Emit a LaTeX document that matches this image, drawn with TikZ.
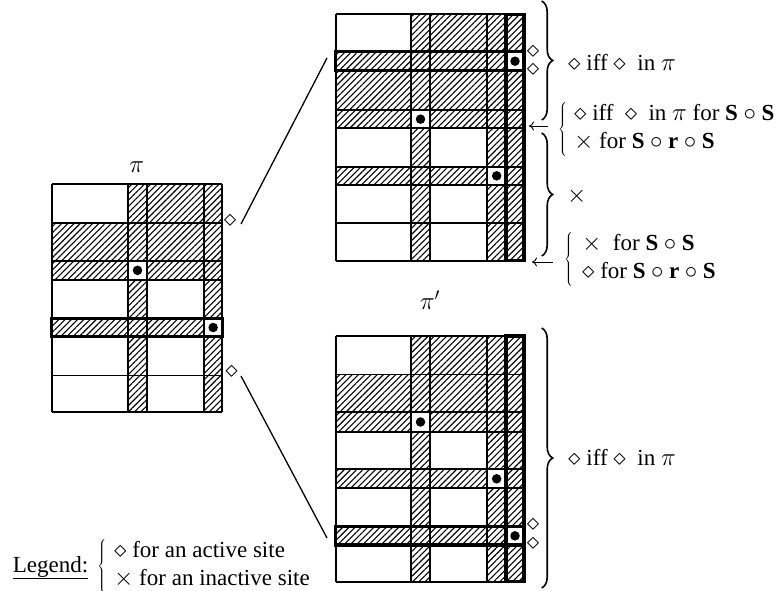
\documentclass[tikz,border=0pt]{standalone}
\usepackage{fontspec}
\setmainfont{Liberation Serif}
\usetikzlibrary{patterns.meta,decorations.pathreplacing,arrows.meta}
\begin{document}
\begin{tikzpicture}[x=1pt,y=-1pt,
  hatch/.style={pattern={Lines[angle=45,distance=4.4pt,line width=1.1pt]}},
  gridline/.style={line width=2.3pt},
  thinline/.style={line width=0.9pt},
  medbox/.style={line width=2.7pt},
  thickbox/.style={line width=3.4pt},
  dotmark/.style={circle,fill=black,inner sep=0pt,minimum size=9.5pt},
  lbl/.style={inner sep=0pt, font=\fontsize{23}{27.6}\selectfont},
  bracestyle/.style={decorate, decoration={brace, amplitude=11pt}, line width=1.6pt},
  conn/.style={line width=1.3pt},
  arr/.style={line width=0.9pt, -{To[length=5pt,width=9pt]}}
]
\useasboundingbox (0,0) rectangle (781,590);

% ---------- left grid (pi) ----------
\fill[hatch] (128.3,184.3) rectangle (222.3,222.7);
\fill[hatch] (51.7,222.7) rectangle (222.3,260.7);
\fill[hatch] (51.7,260.7) rectangle (128.3,280);
\fill[hatch] (146.7,260.7) rectangle (222.3,280);
\fill[hatch] (128.3,280) rectangle (146.7,318.3);
\fill[hatch] (204,280) rectangle (222.3,318.3);
\fill[hatch] (51.7,318.3) rectangle (204,336.7);
\fill[hatch] (128.3,336.7) rectangle (146.7,411.7);
\fill[hatch] (204,336.7) rectangle (222.3,411.7);
\foreach \x in {51.7,128.3,146.7,204,222.3}
  \draw[gridline] (\x,184.3) -- (\x,411.7);
\foreach \y in {184.3,222.7,260.7,280,318.3,336.7,411.7}
  \draw[gridline] (51.7,\y) -- (222.3,\y);
\draw[thinline] (51.7,375) -- (222.3,375);
\draw[medbox] (51.7,318.3) rectangle (222.3,336.7);
\node[dotmark] (ld1) at (137.5,270.35) {};
\node[dotmark] (ld2) at (213.15,327.5) {};
\node[lbl] (pi) at (136.7,166.7) {$\pi$};

% ---------- top right grid ----------
\fill[hatch] (411,14.3) rectangle (524,51.7);
\fill[hatch] (335.7,51.7) rectangle (506,70.7);
\fill[hatch] (335.7,70.7) rectangle (524,110);
\fill[hatch] (335.7,110) rectangle (411,128.3);
\fill[hatch] (430,110) rectangle (524,128.3);
\fill[hatch] (411,128.3) rectangle (430,166.7);
\fill[hatch] (487.3,128.3) rectangle (524,166.7);
\fill[hatch] (335.7,166.7) rectangle (487.3,185);
\fill[hatch] (506,166.7) rectangle (524,185);
\fill[hatch] (411,185) rectangle (430,260.7);
\fill[hatch] (487.3,185) rectangle (524,260.7);
\foreach \x in {335.7,411,430,487.3,506,524}
  \draw[gridline] (\x,14.3) -- (\x,260.7);
\foreach \y in {14.3,51.7,70.7,110,128.3,166.7,185,222.7,260.7}
  \draw[gridline] (335.7,\y) -- (524,\y);
\draw[thickbox] (335.7,51.7) rectangle (524,70.7);
\draw[thickbox] (506,14.3) rectangle (524,260.7);
\node[dotmark] (td1) at (515,61.2) {};
\node[dotmark] (td2) at (420.5,119.15) {};
\node[dotmark] (td3) at (496.65,175.85) {};

% ---------- bottom right grid ----------
\fill[hatch] (411,336) rectangle (524,374.3);
\fill[hatch] (335.7,374.3) rectangle (524,412.3);
\fill[hatch] (335.7,412.3) rectangle (411,431.7);
\fill[hatch] (430,412.3) rectangle (524,431.7);
\fill[hatch] (411,431.7) rectangle (430,469.3);
\fill[hatch] (487.3,431.7) rectangle (524,469.3);
\fill[hatch] (335.7,469.3) rectangle (487.3,488.3);
\fill[hatch] (506,469.3) rectangle (524,488.3);
\fill[hatch] (411,488.3) rectangle (430,526.7);
\fill[hatch] (487.3,488.3) rectangle (524,526.7);
\fill[hatch] (335.7,526.7) rectangle (506,545);
\fill[hatch] (411,545) rectangle (430,581.7);
\fill[hatch] (487.3,545) rectangle (524,581.7);
\foreach \x in {335.7,411,430,487.3,506,524}
  \draw[gridline] (\x,336) -- (\x,581.7);
\foreach \y in {336,412.3,431.7,469.3,488.3,526.7,545,581.7}
  \draw[gridline] (335.7,\y) -- (524,\y);
\draw[thinline] (335.7,374.3) -- (524,374.3);
\draw[thickbox] (335.7,526.7) rectangle (524,545);
\draw[thickbox] (506,336) rectangle (524,581.7);
\node[dotmark] (bd1) at (420.5,422) {};
\node[dotmark] (bd2) at (496.65,478.8) {};
\node[dotmark] (bd3) at (515,535.85) {};
\node[lbl] (pip) at (430,300) {$\pi'$};

% ---------- small diamonds ----------
\node[lbl] (dl1) at (230,221) {$\diamond$};
\node[lbl] (dl2) at (231.5,372) {$\diamond$};
\node[lbl] (dt1) at (533,52) {$\diamond$};
\node[lbl] (dt2) at (533,70) {$\diamond$};
\node[lbl] (db1) at (533,525) {$\diamond$};
\node[lbl] (db2) at (533,544) {$\diamond$};

% ---------- connectors ----------
\coordinate (c1s) at (241,224);
\coordinate (c1e) at (327,58);
\coordinate (c2s) at (241,376);
\coordinate (c2e) at (327,538);
\draw[conn] (c1s) -- (c1e);
\draw[conn] (c2s) -- (c2e);

% ---------- braces ----------
\coordinate (b1a) at (541.7,1);   \coordinate (b1b) at (541.7,120);
\coordinate (b2a) at (541.7,133); \coordinate (b2b) at (541.7,256);
\coordinate (b3a) at (541.7,328); \coordinate (b3b) at (541.7,588);
\draw[bracestyle] (b1a) -- (b1b);
\draw[bracestyle] (b2a) -- (b2b);
\draw[bracestyle] (b3a) -- (b3b);

% ---------- arrows ----------
\coordinate (a1s) at (548,126); \coordinate (a1e) at (529,126);
\coordinate (a2s) at (553,262); \coordinate (a2e) at (532,262);
\draw[arr] (a1s) -- (a1e);
\draw[arr] (a2s) -- (a2e);

% ---------- labels ----------
\node[lbl,anchor=west] (t1) at (568,62) {$\diamond$ iff $\diamond$\ \ in $\pi$};
\node[lbl,anchor=west] (t2) at (558,129)
  {$\left\{\begin{array}{@{\hspace{7pt}}l@{}}\diamond\mbox{ iff }\diamond\mbox{ in }\pi\mbox{ for }\mathbf{S}\circ\mathbf{S}\\ \times\mbox{ for }\mathbf{S}\circ\mathbf{r}\circ\mathbf{S}\end{array}\right.$};
\node[lbl,anchor=west] (t3) at (567,196) {$\times$};
\node[lbl,anchor=west] (t4) at (564,259)
  {$\left\{\begin{array}{@{\hspace{9pt}}l@{}}\times\mbox{ \ for }\mathbf{S}\circ\mathbf{S}\\ \diamond\mbox{ for }\mathbf{S}\circ\mathbf{r}\circ\mathbf{S}\end{array}\right.$};
\node[lbl,anchor=west] (t5) at (568,457) {$\diamond$ iff $\diamond$\ \ in $\pi$};
\node[lbl,anchor=west] (leg) at (12.7,566)
  {\underline{Legend:}\hspace{9pt}$\left\{\begin{array}{@{\hspace{8pt}}l@{}}\diamond\mbox{ for an active site}\\ \times\mbox{ for an inactive site}\end{array}\right.$};
\end{tikzpicture}
\end{document}
